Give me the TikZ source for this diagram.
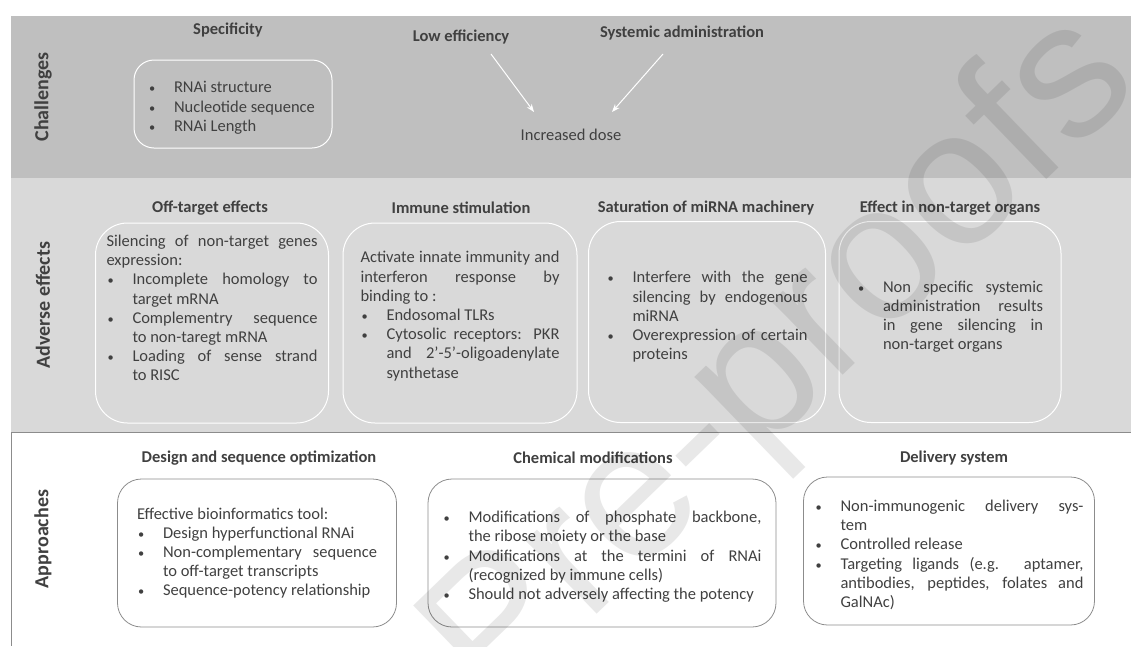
\documentclass[tikz,border=0pt]{standalone}
\usepackage{fontspec}
\setmainfont{Carlito}
\newfontfamily\wmfont{Liberation Sans}
\usetikzlibrary{arrows.meta}
\definecolor{bandA}{HTML}{BFBFBF}
\definecolor{bandB}{HTML}{D9D9D9}
\definecolor{inktext}{HTML}{404040}
\definecolor{rimgray}{HTML}{8C8C8C}
% bullet line, every line of it indented
\newcommand{\bitem}[1]{\par\noindent\leftskip=26pt\llap{\makebox[26pt][l]{\hspace{1pt}\scalebox{0.75}{\textbullet}}}#1\par}
\begin{document}
\begin{tikzpicture}[x=1pt,y=-1pt,
	every node/.style={text=inktext,font=\fontsize{16.5}{19.2}\selectfont},
	head/.style={font=\fontsize{16.5}{19.2}\selectfont\bfseries},
	side/.style={rotate=90,font=\fontsize{20}{24}\selectfont\bfseries},
	inbox/.style={draw=white,line width=1pt,rounded corners=#1,align=justify,inner sep=0pt},
	outbox/.style={draw=rimgray,line width=0.8pt,rounded corners=#1,align=justify,inner sep=0pt},
	arr/.style={white,line width=1pt,-{Stealth[length=8pt,width=6pt]}}]
	\useasboundingbox (0,0) rectangle (1131,646);
	\fill [bandA] (11,16) rectangle (1131,178);
	\fill [bandB] (11,178) rectangle (1131,432);
	\draw [rimgray,line width=0.8pt] (1131,432) -- (11,432) -- (11,646);
	\node [side] (chal) at (43,97) {Challenges};
	\node [side] (adv) at (43,305) {Adverse effects};
	\node [side] (appr) at (43,539) {Approaches};
	% challenges
	\node [head] (spec) at (228,30) {Specificity};
	\node [inbox=20pt,minimum width=198pt,minimum height=88pt,text width=170pt] (specbox) at (233,104)
		{\bitem{RNAi structure}\bitem{Nucleotide sequence}\bitem{RNAi Length}};
	\node [head] (loweff) at (461,37) {Low efficiency};
	\node [head] (sysadm) at (682,33) {Systemic administration};
	\node (dose) at (571,135) {Increased dose};
	\coordinate (a1) at (491,54); \coordinate (a2) at (534,112);
	\coordinate (b1) at (663,54); \coordinate (b2) at (612,112);
	\draw [arr] (a1) -- (a2);
	\draw [arr] (b1) -- (b2);
	% adverse effects
	\node [head] (offh) at (210,208) {Off-target effects};
	\node [head] (immh) at (461,208) {Immune stimulation};
	\node [head] (sath) at (706,208) {Saturation of miRNA machinery};
	\node [head] (effh) at (950,208) {Effect in non-target organs};
	\node [inbox=32pt,minimum width=233pt,minimum height=200pt,text width=211pt] (offbox) at (212,323)
		{Silencing of non-target genes \linebreak expression:
		\bitem{Incomplete homology to \linebreak target mRNA}
		\bitem{Complementry sequence \linebreak to non-taregt mRNA}
		\bitem{Loading of sense strand \linebreak to RISC}\vspace{30pt}};
	\node [inbox=32pt,minimum width=234pt,minimum height=200pt,text width=199pt] (immbox) at (460,323)
		{Activate innate immunity and \linebreak interferon response by \linebreak binding to :
		\bitem{Endosomal TLRs}
		\bitem{Cytosolic receptors: PKR \linebreak and 2'-5'-oligoadenylate \linebreak synthetase}\vspace{14pt}};
	\node [inbox=32pt,minimum width=237pt,minimum height=201pt,text width=201pt] (satbox) at (707,322)
		{\bitem{Interfere with the gene \linebreak silencing by endogenous \linebreak miRNA}
		\bitem{Overexpression of certain \linebreak proteins}\vspace{18pt}};
	\node [inbox=32pt,minimum width=222pt,minimum height=201pt,text width=186pt] (effbox) at (950,322)
		{\bitem{Non specific systemic \linebreak administration results \linebreak in gene silencing in \linebreak non-target organs}\vspace{18pt}};
	% approaches
	\node [head] (desh) at (259,458) {Design and sequence optimization};
	\node [head] (chemh) at (593,458) {Chemical modifications};
	\node [head] (delh) at (954,458) {Delivery system};
	\node [outbox=24pt,minimum width=279pt,minimum height=148pt,text width=240pt] (desbox) at (257,553)
		{Effective bioinformatics tool:
		\bitem{Design hyperfunctional RNAi}
		\bitem{Non-complementary sequence \linebreak to off-target transcripts}
		\bitem{Sequence-potency relationship}};
	\node [outbox=24pt,minimum width=348pt,minimum height=148pt,text width=319pt] (chembox) at (602,553)
		{\bitem{Modifications of phosphate backbone, \linebreak the ribose moiety or the base}
		\bitem{Modifications at the termini of RNAi \linebreak (recognized by immune cells)}
		\bitem{Should not adversely affecting the potency}};
	\node [outbox=24pt,minimum width=291pt,minimum height=148pt,text width=269pt] (delbox) at (949,551)
		{\bitem{Non-immunogenic delivery sys-\linebreak tem}
		\bitem{Controlled release}
		\bitem{Targeting ligands (e.g. aptamer, \linebreak antibodies, peptides, folates and \linebreak GalNAc)}};
	% watermark
	\node [rotate=44,text=black,text opacity=0.09,font=\wmfont\fontsize{193}{193}\selectfont] (wm) at (784,364) {Pre-proofs};
\end{tikzpicture}
\end{document}
